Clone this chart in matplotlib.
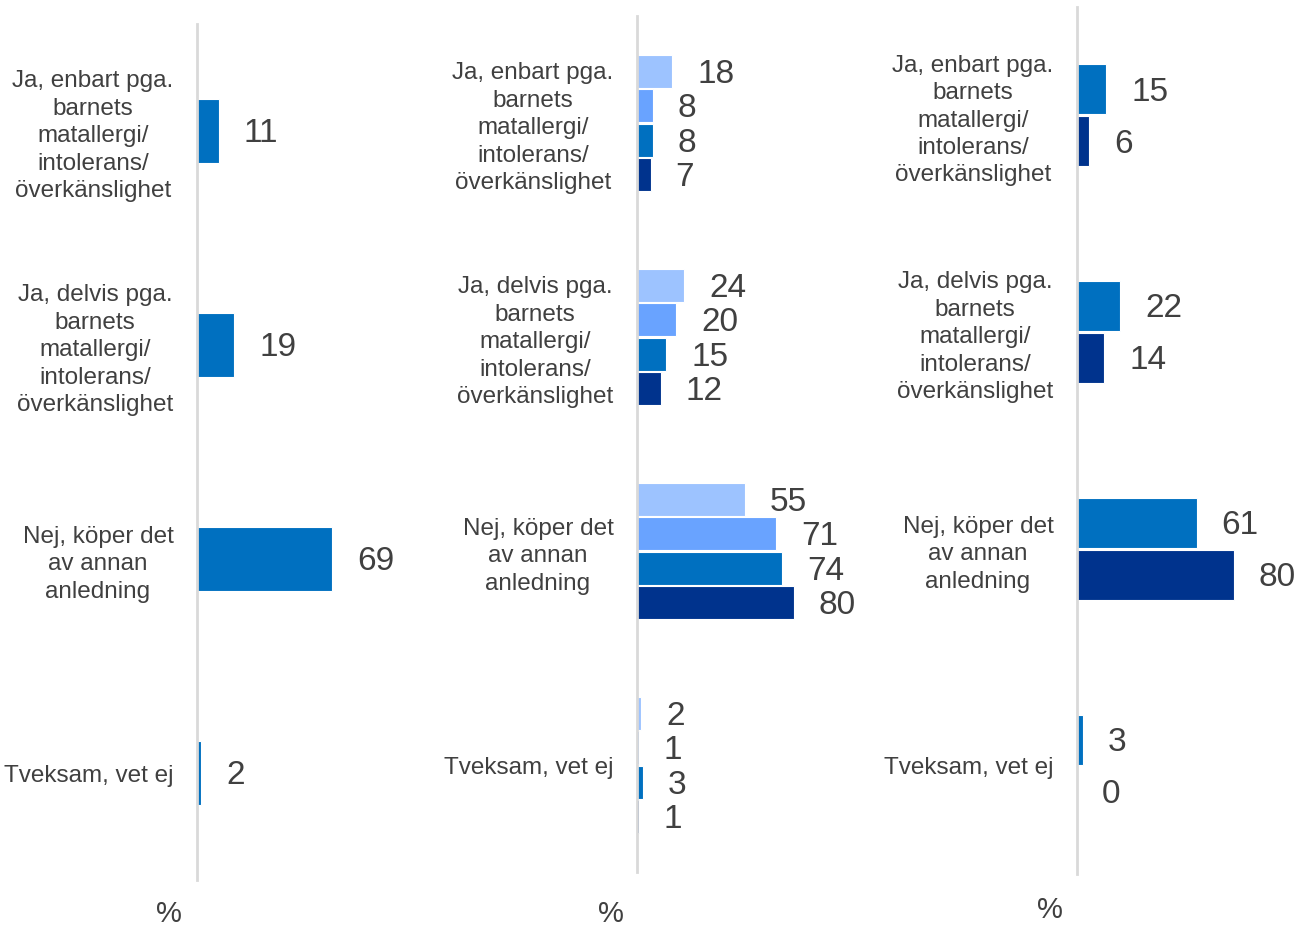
import numpy as np
import matplotlib.pyplot as plt

plt.rcParams['font.family'] = ['Liberation Sans', 'DejaVu Sans']

#-----------------------------------------------------------------------------------------------------#

categories = [
    "Ja, enbart pga.\nbarnets\nmatallergi/\nintolerans/\növerkänslighet",
    "Ja, delvis pga.\nbarnets\nmatallergi/\nintolerans/\növerkänslighet",
    "Nej, köper det\nav annan\nanledning",
    "Tveksam, vet ej",
]

# panel 1: one series
p1_values = [[11, 19, 69, 2]]
p1_colors = ['#0070C0']

# panel 2: four series (top to bottom inside each group)
p2_values = [
    [18, 24, 55, 2],
    [8, 20, 71, 1],
    [8, 15, 74, 3],
    [7, 12, 80, 1],
]
p2_colors = ['#9DC3FF', '#69A3FF', '#0070C0', '#00338D']

# panel 3: two series
p3_values = [
    [15, 22, 61, 3],
    [6, 14, 80, 0],
]
p3_colors = ['#0070C0', '#00338D']

#-----------------------------------------------------------------------------------------------------#

W, H = 1303, 930
fig = plt.figure(figsize=(W / 100, H / 100), dpi=100)

text_col = '#404040'
px_per_unit = 1.96
ax_w = 420


def make_panel(left, top, bottom, values, colors, bar_h, stride, pct_xy):
    ax = fig.add_axes([left / W, (H - bottom) / H, ax_w / W, (bottom - top) / H])
    n = len(values)
    y = np.arange(len(categories))
    for i, (vals, col) in enumerate(zip(values, colors)):
        off = (i - (n - 1) / 2) * stride
        bars = ax.barh(y + off, vals, height=bar_h, color=col, edgecolor='white', linewidth=0.8)
        for b, v in zip(bars, vals):
            ax.annotate(str(v), (b.get_width(), b.get_y() + b.get_height() / 2),
                        xytext=(18, -2), textcoords='offset points',
                        ha='left', va='center', fontsize=24, color=text_col)
    ax.set_xlim(0, ax_w / px_per_unit)
    ax.set_ylim(len(categories) - 0.5, -0.5)
    ax.set_yticks(y)
    ax.set_yticklabels(categories, fontsize=17.5, color=text_col, linespacing=1.32)
    for lab in ax.get_yticklabels():
        lab.set_multialignment('center')
    ax.tick_params(axis='y', length=0, pad=17)
    ax.set_xticks([])
    for s in ['top', 'right', 'bottom']:
        ax.spines[s].set_visible(False)
    ax.spines['left'].set_color('#D9D9D9')
    ax.spines['left'].set_linewidth(2)
    ax.patch.set_alpha(0)
    fig.text(pct_xy[0] / W, 1 - pct_xy[1] / H, '%', ha='center', va='center',
             fontsize=21, color=text_col)
    return ax


make_panel(197, 24, 880, p1_values, p1_colors, 0.30, 0.30, (169, 914))
make_panel(637, 16, 872, p2_values, p2_colors, 0.155, 0.161, (611, 914))
make_panel(1077, 7, 874, p3_values, p3_colors, 0.23, 0.24, (1050, 910))

fig.savefig('out.png', dpi=100)
